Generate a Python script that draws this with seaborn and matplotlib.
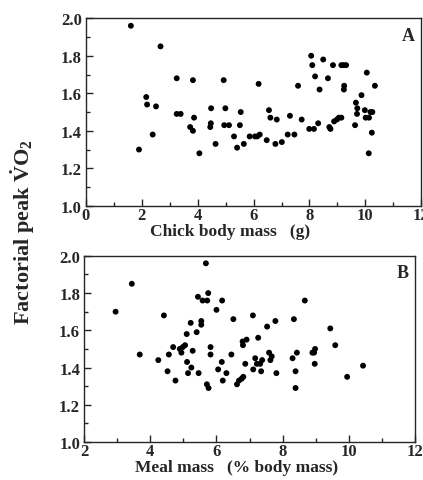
import numpy as np
import pandas as pd
import seaborn as sns
import matplotlib.pyplot as plt
from matplotlib.ticker import MultipleLocator

# Panel A: chick body mass (g) vs factorial peak VO2
chick_mass = [1.61, 2.67, 1.90, 2.16, 2.19, 2.51, 2.39, 3.25, 3.25, 3.39, 3.83, 3.87, 3.73, 3.83,
              4.06, 4.48, 4.47, 4.45, 4.64, 4.93, 4.99, 4.95, 5.12, 5.30, 5.41, 5.54, 5.51, 5.65,
              5.86, 6.05, 6.13, 6.22, 6.18, 6.47, 6.55, 6.60, 6.78, 6.83, 7.01, 7.22, 7.30, 7.46,
              7.59, 7.72, 7.99, 8.06, 8.10, 8.16, 8.20, 8.31, 8.36, 8.49, 8.66, 8.71, 8.75, 8.84,
              8.88, 8.98, 9.05, 9.14, 9.14, 9.22, 9.31, 9.24, 9.23, 9.63, 9.66, 9.71, 9.70, 9.86,
              9.98, 10.01, 10.05, 10.13, 10.12, 10.18, 10.25, 10.23, 10.34]
vo2_a = [1.96, 1.85, 1.30, 1.58, 1.54, 1.53, 1.38, 1.68, 1.49, 1.49, 1.67, 1.47, 1.42, 1.40,
         1.28, 1.52, 1.44, 1.42, 1.33, 1.67, 1.52, 1.43, 1.43, 1.37, 1.31, 1.50, 1.43, 1.33,
         1.37, 1.37, 1.37, 1.38, 1.65, 1.35, 1.51, 1.47, 1.33, 1.46, 1.34, 1.38, 1.48, 1.38,
         1.64, 1.46, 1.41, 1.80, 1.75, 1.41, 1.69, 1.44, 1.62, 1.78, 1.68, 1.42, 1.41, 1.75,
         1.45, 1.46, 1.47, 1.47, 1.75, 1.75, 1.75, 1.64, 1.62, 1.43, 1.55, 1.52, 1.49, 1.59,
         1.51, 1.47, 1.71, 1.47, 1.28, 1.50, 1.50, 1.39, 1.64]

# Panel B: meal mass (% body mass) vs factorial peak VO2
meal_mass = [2.95, 3.44, 3.68, 4.24, 4.41, 4.52, 4.56, 4.69, 4.76, 4.89, 4.94, 4.98, 5.05, 5.10,
             5.11, 5.14, 5.22, 5.24, 5.28, 5.40, 5.46, 5.44, 5.54, 5.54, 5.58, 5.68, 5.72, 5.75,
             5.71, 5.76, 5.82, 5.82, 6.00, 6.05, 6.16, 6.17, 6.19, 6.30, 6.45, 6.51, 6.62, 6.68,
             6.76, 6.81, 6.79, 6.80, 6.91, 6.87, 7.11, 7.10, 7.17, 7.22, 7.26, 7.32, 7.35, 7.38,
             7.53, 7.59, 7.63, 7.67, 7.78, 7.81, 8.30, 8.34, 8.39, 8.43, 8.39, 8.67, 8.90, 8.95,
             8.98, 8.97, 9.44, 9.59, 9.95, 10.43]
vo2_b = [1.70, 1.85, 1.47, 1.44, 1.68, 1.38, 1.47, 1.51, 1.33, 1.50, 1.48, 1.51, 1.52, 1.58,
         1.43, 1.37, 1.64, 1.40, 1.49, 1.59, 1.37, 1.78, 1.65, 1.63, 1.76, 1.96, 1.76, 1.80,
         1.31, 1.29, 1.51, 1.47, 1.71, 1.39, 1.43, 1.76, 1.33, 1.37, 1.47, 1.66, 1.31, 1.33,
         1.34, 1.35, 1.54, 1.52, 1.55, 1.42, 1.39, 1.68, 1.45, 1.42, 1.56, 1.42, 1.38, 1.44,
         1.62, 1.48, 1.44, 1.46, 1.65, 1.37, 1.45, 1.66, 1.38, 1.48, 1.29, 1.76, 1.48, 1.48,
         1.50, 1.42, 1.61, 1.52, 1.35, 1.41]

sns.set_style("ticks")
plt.rcParams['font.family'] = ['Liberation Serif', 'DejaVu Serif']
plt.rcParams['font.weight'] = 'bold'
plt.rcParams['mathtext.fontset'] = 'custom'
plt.rcParams['mathtext.rm'] = 'Liberation Serif:bold'
plt.rcParams['mathtext.bf'] = 'Liberation Serif:bold'
plt.rcParams['mathtext.it'] = 'Liberation Serif:bold'

fig = plt.figure(figsize=(4.23, 4.81), dpi=100)
ax1 = fig.add_axes([0.203, 0.570, 0.793, 0.390])
ax2 = fig.add_axes([0.199, 0.079, 0.782, 0.387])

df_a = pd.DataFrame({'x': chick_mass, 'y': vo2_a})
df_b = pd.DataFrame({'x': meal_mass, 'y': vo2_b})

sns.scatterplot(data=df_a, x='x', y='y', ax=ax1, color='black', s=18, edgecolor='none')
sns.scatterplot(data=df_b, x='x', y='y', ax=ax2, color='black', s=18, edgecolor='none')

for ax, xlim, xlabel, letter, lx in [(ax1, (0, 12), 'Chick body mass   (g)', 'A', 0.43),
                                     (ax2, (2, 12), 'Meal mass   (% body mass)', 'B', 0.46)]:
    ax.set_xlim(*xlim)
    ax.set_ylim(1.0, 2.0)
    ax.xaxis.set_major_locator(MultipleLocator(2))
    ax.xaxis.set_minor_locator(MultipleLocator(1))
    ax.yaxis.set_major_locator(MultipleLocator(0.2))
    ax.yaxis.set_minor_locator(MultipleLocator(0.1))
    ax.yaxis.set_major_formatter(plt.FormatStrFormatter('%.1f'))
    ax.tick_params(which='major', direction='in', length=5, width=1, labelsize=12, pad=3)
    ax.tick_params(which='minor', direction='in', length=3, width=1)
    ax.tick_params(axis='x', pad=1)
    for sp in ax.spines.values():
        sp.set_linewidth(1)
        sp.set_visible(True)
    ax.set_xlabel(xlabel, fontsize=12.5, fontweight='bold', labelpad=0)
    ax.xaxis.label.set_x(lx)
    ax.set_ylabel('')
    ax.text(0.982, 0.955, letter, transform=ax.transAxes, ha='right', va='top',
            fontsize=13, fontweight='bold')

fig.text(0.053, 0.518, r'Factorial peak $\dot{\mathrm{V}}\mathrm{O}_2$', rotation=90,
         ha='center', va='center', fontsize=16, fontweight='bold')

fig.savefig('out.png', dpi=100)
